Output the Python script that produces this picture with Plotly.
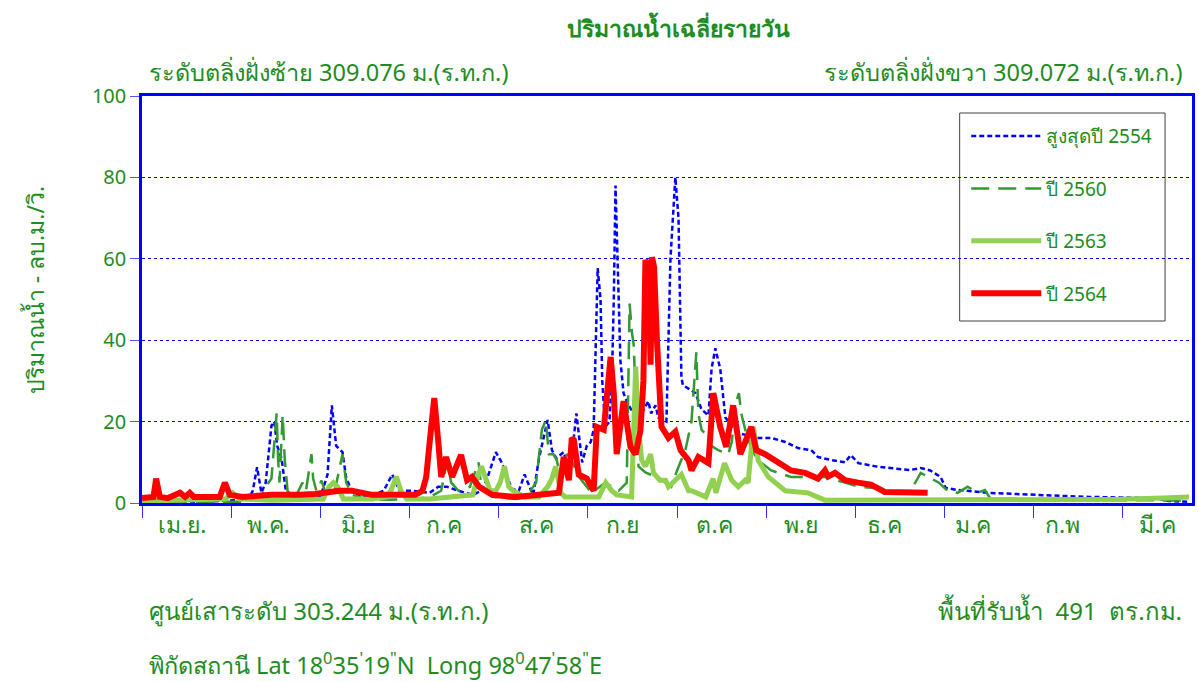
import plotly.graph_objects as go

# ---------------- data (day index from 1 April; value in m3/s) ----------------
days_2554 = [0, 10, 20, 30, 37, 38.5, 40, 41.5, 43, 45, 46, 47, 48.5, 50, 53, 58, 62, 64.5, 66, 67.5,
             69.7, 71, 73, 76, 80, 84, 87, 89.5, 94, 100, 103, 106, 110, 115, 118, 120, 123, 125,
             128.6, 131, 133, 135, 136, 138, 141, 142.5, 144, 146.6, 148, 149.5, 151, 152.5, 153,
             154.6, 156, 157, 157.7, 158.4, 159.4, 160, 161, 162.5, 163.5, 164, 164.6, 165.7, 166.3,
             167.4, 168.5, 170, 172, 173.7, 176, 177, 178.5, 179.5, 182.3, 183.7, 185.4, 186.5,
             187.5, 188, 190, 192.4, 194.5, 196.9, 198, 199.3, 200.3, 201, 202.8, 205, 208.3,
             214.2, 218.7, 223.6, 228, 232.6, 235, 240, 244.4, 246.4, 249, 255, 260, 267, 270.7,
             274, 277.6, 279.4, 283.5, 294, 311, 329, 352, 357, 364]
flow_2554 = [0.5, 0.5, 0.3, 0.5, 0.8, 3, 8.8, 2.5, 5, 19, 20, 14, 11, 3, 1, 1, 1.5, 7, 24, 14,
             12.5, 6, 3, 1.5, 2, 3, 7, 3, 3, 2.5, 4, 4, 3, 2, 3, 6, 12.5, 10,
             3.5, 3, 7, 3.5, 2, 11, 20.4, 13, 11, 12.5, 9, 12, 22, 13, 10,
             14, 15, 18, 41, 57.7, 50, 30, 18.7, 20, 35, 50, 78, 50, 35,
             27, 25, 23, 23, 22, 25, 22, 24, 21, 20, 60, 80, 70,
             31, 29, 28, 27, 23, 21.5, 33, 38, 35, 33, 21, 19, 17,
             16, 16, 15, 13.5, 13, 11.3, 10.5, 10, 11.8, 9.8, 9, 8.6, 8.1, 8.6,
             8, 6.4, 3.7, 3.2, 2.5, 2, 1.5, 1.2, 0.5, 0.3]

days_2560 = [0, 20, 35, 41, 43, 45, 46, 46.8, 47.3, 47.8, 48.9, 49.6, 50.6, 53, 55.8, 57, 58.9,
             59.5, 60.6, 62.4, 64, 67, 69.7, 71, 73, 78, 85, 95, 100, 104, 106, 107.5, 110, 114,
             117, 118, 122, 130, 134, 137, 139, 140.4, 141.4, 143, 144.2, 145.5, 147.7, 149,
             151.8, 156.3, 161, 165.7, 168.5, 169.5, 170.3, 170.9, 171.6, 172.6, 175, 178.5, 181,
             184, 186, 188.9, 191, 192.7, 193.4, 194.5, 195.8, 198, 200.3, 203.8, 205, 206.6,
             207.5, 208.3, 209.7, 212, 214.2, 218.7, 225.6, 237.4, 244.4, 249, 254.8, 260.3,
             265.2, 268, 270.7, 273, 275.6, 277, 280, 283.5, 287, 290.5, 293, 295, 310, 330, 364]
flow_2560 = [0.3, 0.2, 0.3, 1, 4, 6, 16, 22, 11, 5, 21.6, 11, 3, 1, 5, 3, 12,
             6, 3, 5.5, 2, 3, 12, 5, 2, 1, 0.8, 1, 1.5, 3, 10, 5, 3, 4,
             10, 3.5, 1.5, 1, 2, 5, 18, 20.4, 12, 12, 10.5, 6, 12, 11,
             6.5, 2.5, 5, 3, 5, 49, 42, 39, 27, 9, 7.5, 6.5, 5.5,
             4, 8, 13, 20, 37, 22, 18, 17, 14, 13, 12, 15, 25,
             27, 22, 18, 13, 10.5, 8, 6.4, 6.4, 5, 4, 3.7, 2.7,
             2.5, 4, 7.4, 6.5, 5.6, 5, 3, 2.5, 4, 2.5, 3.2, 1, 0.8, 0.7, 0.6]

days_2563 = [0, 10, 20, 29, 31.5, 34, 45, 55, 63, 65, 66.5, 68, 70, 80, 85, 86.5, 88.4, 90, 92,
             100, 110, 115, 116.5, 118, 119.5, 121, 123, 124.5, 126, 127.5, 129, 130.5, 133, 138,
             141, 142.5, 143.8, 145.6, 147, 158.8, 161.2, 163.3, 165, 170.2, 171.6, 172.6, 173.7,
             175, 176.8, 177.8, 180, 182, 183, 187.5, 190, 191, 196, 198.5, 199.5, 202.5, 205,
             207.3, 209.7, 210.7, 212.5, 214.2, 217.7, 223.6, 231.5, 237.4, 250, 280, 310, 340,
             355, 364]
flow_2563 = [0.5, 0.7, 0.8, 1, 2.5, 1, 0.7, 0.8, 1, 4, 5, 4, 1, 1, 1.5, 3, 6.5, 3, 1,
             1, 1.5, 2, 6, 9, 6, 3, 3, 5, 9, 4, 3, 2.5, 1.5, 1.5,
             4, 6, 9, 2.5, 1.5, 1.5, 5, 3, 2, 1.5, 33.5, 18.7, 10.5,
             9, 12, 7.4, 5.6, 5.6, 4, 7, 3, 3, 1.5, 6, 2.5, 9.8, 5.6,
             4, 5.6, 5, 18.7, 10.5, 6.4, 3, 2.5, 0.7, 0.7, 0.7, 0.8, 0.9,
             1.2, 1.5]

days_2564 = [0, 4, 4.9, 6.2, 9, 13.2, 15, 16.6, 18, 22.5, 27, 28.8, 30.5, 35, 45, 55, 60, 68.6,
             73, 80, 95, 97.5, 98.8, 100, 101.6, 103, 104, 105.7, 107.8, 110.9, 113, 114.7, 117.2,
             121.7, 130, 138, 142.5, 144.9, 146.6, 148.4, 149.4, 150.1, 151.8, 154.6, 157, 158.1,
             160.5, 162.9, 164, 165, 167.4, 169.8, 171.6, 173.3, 174.3, 175, 176, 176.8, 177.3,
             178, 179, 180.6, 183, 185.4, 187.2, 190, 191, 193.4, 196.9, 198.6, 201, 203.1,
             205.5, 208, 211.8, 213.5, 216.6, 220.1, 225.6, 230.5, 235, 237.4, 238.5, 240.9,
             244.4, 248.9, 253.4, 258.2, 273.1]
flow_2564 = [1.2, 1.5, 6, 1.5, 1.2, 2.5, 1.5, 2.5, 1.5, 1.5, 1.5, 5, 2, 1.5, 2, 2, 2.2, 3,
             3, 2, 2, 3, 6.4, 15, 25.8, 15, 6.4, 11.3, 6.4, 11.8, 5.6, 6.4, 4,
             2, 1.5, 2, 2.5, 2.5, 11.3, 5.6, 16, 15.5, 7, 6, 3, 18.7,
             18, 35.9, 27, 12, 25, 13.8, 12, 18, 30, 59.7, 58, 34, 60.4,
             58, 40, 18.7, 16, 17.5, 13, 10.5, 8, 11.3, 9.8, 27, 18.7, 13.8,
             24, 12, 18.7, 13, 12, 10.5, 8, 7.4, 6, 8, 6.5, 7.4,
             5.6, 5, 4.5, 2.7, 2.5]

series_names = ["สูงสุดปี 2554", "ปี 2560", "ปี 2563", "ปี 2564"]

month_labels = ["เม.ย.", "พ.ค.", "มิ.ย", "ก.ค", "ส.ค", "ก.ย", "ต.ค", "พ.ย", "ธ.ค", "ม.ค", "ก.พ", "มี.ค"]
month_label_days = [14, 44, 75, 105, 137, 167, 199, 229, 258, 289, 320, 353]
month_tick_days = [0, 31, 62, 93, 124, 155, 186, 217, 248, 279, 310, 341]
y_ticks = [0, 20, 40, 60, 80, 100]

# ---------------- styling ----------------
GREEN_TXT = "#1E8C1E"
FONT = "Noto Sans, DejaVu Sans, sans-serif"

fig = go.Figure()
styles = [
    dict(color="#0000FF", width=2.5, dash="5px,3px"),
    dict(color="#339933", width=2.5, dash="18px,9px"),
    dict(color="#92D050", width=5, dash="solid"),
    dict(color="#FF0000", width=6, dash="solid"),
]
for name, xs, ys, st in zip(series_names,
                            [days_2554, days_2560, days_2563, days_2564],
                            [flow_2554, flow_2560, flow_2563, flow_2564], styles):
    fig.add_trace(go.Scatter(x=xs, y=ys, mode="lines", name=name, legendgroup=name,
                             line=dict(color=st["color"], width=st["width"], dash=st["dash"],
                                       shape="linear"),
                             hoverinfo="skip"))

fig.update_layout(
    width=1199, height=682,
    margin=dict(l=142, r=4, t=96, b=179),
    paper_bgcolor="white", plot_bgcolor="white",
    font=dict(family=FONT, color=GREEN_TXT, size=18),
    showlegend=True,
    legend=dict(x=0.785, y=0.948, xanchor="left", yanchor="top",
                bgcolor="rgba(0,0,0,0)", borderwidth=0,
                font=dict(size=19, color=GREEN_TXT, family=FONT),
                tracegroupgap=24.7, itemwidth=70),
    xaxis=dict(range=[0, 365], showgrid=False, zeroline=False,
               showline=True, mirror=True, linecolor="#0000FF", linewidth=2.5,
               tickmode="array", tickvals=month_label_days, ticktext=month_labels,
               ticks="", tickfont=dict(size=23, color=GREEN_TXT, family=FONT),
               minor=dict(tickmode="array", tickvals=month_tick_days, ticks="outside",
                          ticklen=12, tickwidth=1, tickcolor="#3333FF", showgrid=False)),
    yaxis=dict(range=[0, 100], tickmode="array", tickvals=y_ticks,
               showgrid=True, gridcolor="#0000FF", griddash="dot", gridwidth=1,
               zeroline=False, showline=True, mirror=True, linecolor="#0000FF", linewidth=2.5,
               ticks="outside", ticklen=9, tickcolor="#5555FF", tickwidth=1,
               tickfont=dict(size=20, color=GREEN_TXT, family=FONT)),
)

# legend frame
fig.add_shape(type="rect", xref="paper", yref="paper",
              x0=(962 - 142) / 1053, x1=(1168 - 142) / 1053,
              y0=(503 - 321) / 407, y1=(503 - 113) / 407,
              line=dict(color="#404040", width=1), fillcolor="white", layer="below")

def ann(text, x, y, xanchor, size=23, bold=False):
    fig.add_annotation(text=f"<b>{text}</b>" if bold else text, x=x, y=y, xref="paper", yref="paper",
                       xanchor=xanchor, yanchor="middle", showarrow=False,
                       font=dict(size=size, color=GREEN_TXT, family=FONT))

ann("ปริมาณน้ำเฉลี่ยรายวัน", (680 - 142) / 1053, (503 - 28) / 407, "center", size=23, bold=True)
ann("ระดับตลิ่งฝั่งซ้าย 309.076 ม.(ร.ท.ก.)", (147 - 142) / 1053, (503 - 72) / 407, "left", size=23.5)
ann("ระดับตลิ่งฝั่งขวา 309.072 ม.(ร.ท.ก.)", (1187 - 142) / 1053, (503 - 72) / 407, "right", size=23.5)
ann("ศูนย์เสาระดับ 303.244 ม.(ร.ท.ก.)", (147 - 142) / 1053, (503 - 610) / 407, "left", size=24)
ann("พื้นที่รับน้ำ  491  ตร.กม.", (1187 - 142) / 1053, (503 - 610) / 407, "right", size=24)
ann("พิกัดสถานี Lat 18<sup>0</sup>35<sup>'</sup>19<sup>\"</sup>N  Long 98<sup>0</sup>47<sup>'</sup>58<sup>\"</sup>E",
    (147 - 142) / 1053, (503 - 663) / 407, "left", size=23.5)
fig.add_annotation(text="ปริมาณน้ำ - ลบ.ม./วิ.", x=(35 - 142) / 1053, y=(503 - 290) / 407,
                   xref="paper", yref="paper", textangle=-90, showarrow=False,
                   xanchor="center", yanchor="middle",
                   font=dict(size=23, color=GREEN_TXT, family=FONT))

fig.write_html("out.html", config={"displayModeBar": False},
               post_script="document.body.style.margin='0';")
